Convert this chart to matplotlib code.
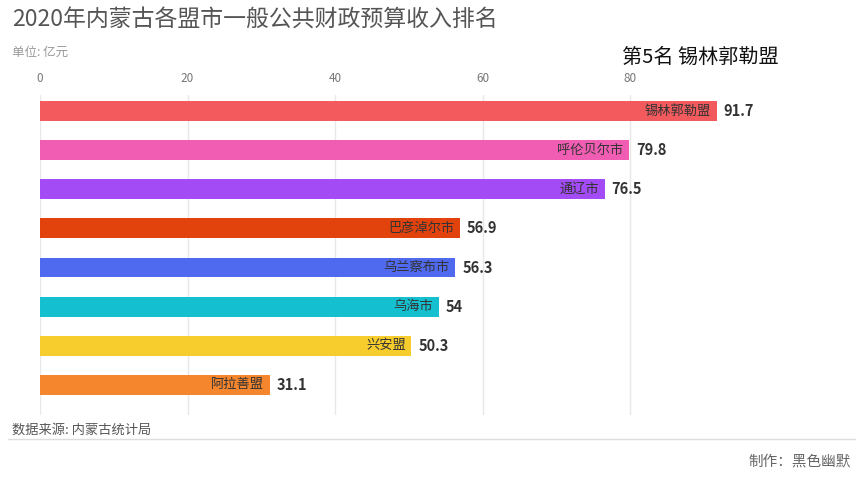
import matplotlib.pyplot as plt

plt.rcParams['font.family'] = ['Noto Sans CJK SC', 'DejaVu Sans']

# data (2020, 亿元)
regions = ['锡林郭勒盟', '呼伦贝尔市', '通辽市', '巴彦淖尔市', '乌兰察布市', '乌海市', '兴安盟', '阿拉善盟']
values = [91.7, 79.8, 76.5, 56.9, 56.3, 54, 50.3, 31.1]
value_labels = ['91.7', '79.8', '76.5', '56.9', '56.3', '54', '50.3', '31.1']
colors = ['#f25a5e', '#f25db4', '#a34bf5', '#e2420c', '#4f6aee', '#14c0d0', '#f6cd2c', '#f5862e']
ticks = [0, 20, 40, 60, 80]

fig = plt.figure(figsize=(8.64, 4.8), dpi=100)
ax = fig.add_axes([40 / 864, 65 / 480, 738 / 864, 320 / 480])

ypos = list(range(len(regions)))
ax.barh(ypos, values, height=0.51, color=colors, zorder=2)

for y, v, name, lab in zip(ypos, values, regions, value_labels):
    ax.annotate(name, (v, y), xytext=(-4, 0), textcoords='offset points',
                ha='right', va='center', fontsize=9.5, color='#333333', zorder=3)
    ax.annotate(lab, (v, y), xytext=(5, 0), textcoords='offset points',
                ha='left', va='center', fontsize=10.5, fontweight='bold',
                color='#333333', zorder=3)

ax.set_xlim(0, 100)
ax.set_ylim(7.77, -0.41)
ax.set_xticks(ticks)
ax.xaxis.tick_top()
ax.tick_params(axis='x', length=0, pad=7, labelsize=8.5, labelcolor='#777777')
ax.set_yticks([])
ax.grid(axis='x', color='#e8e8e8', linewidth=1, zorder=0)
for s in ax.spines.values():
    s.set_visible(False)

fig.text(12 / 864, 1 - 20 / 480, '2020年内蒙古各盟市一般公共财政预算收入排名',
         fontsize=16.5, color='#555555', ha='left', va='center')
fig.text(12 / 864, 1 - 52 / 480, '单位: 亿元', fontsize=9, color='#999999',
         ha='left', va='center')
fig.text(779 / 864, 1 - 57 / 480, '第5名 锡林郭勒盟', fontsize=14.5, color='#111111',
         ha='right', va='center')
fig.text(12 / 864, 1 - 430 / 480, '数据来源: 内蒙古统计局', fontsize=9.5, color='#555555',
         ha='left', va='center')
fig.add_artist(plt.Line2D([8 / 864, 855 / 864], [1 - 439 / 480, 1 - 439 / 480],
                          color='#dddddd', linewidth=1))
fig.text(851 / 864, 1 - 461 / 480, '制作：黑色幽默', fontsize=10.5, color='#666666',
         ha='right', va='center')

fig.savefig('out.png', dpi=100)
